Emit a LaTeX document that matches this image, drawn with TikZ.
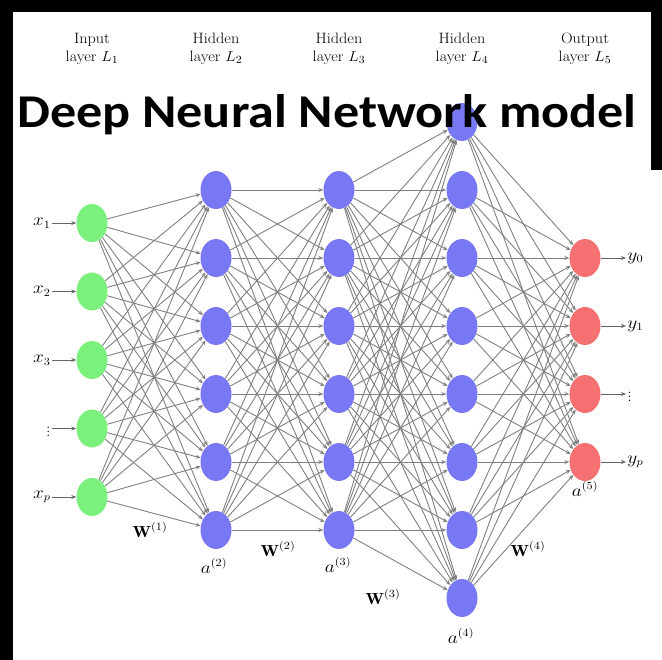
\documentclass[tikz,border=0pt]{standalone}
\usepackage{fontspec}
\newfontfamily\titlefont{Carlito}
\usetikzlibrary{arrows.meta,shapes.geometric}

\definecolor{ingreen}{RGB}{124,240,124}
\definecolor{hidblue}{RGB}{120,120,245}
\definecolor{outred}{RGB}{245,112,112}
\definecolor{linkgray}{RGB}{128,128,128}

\tikzset{
  neuron/.style={ellipse, minimum width=31pt, minimum height=38pt, inner sep=0pt},
  inneuron/.style={neuron, fill=ingreen},
  hidneuron/.style={neuron, fill=hidblue},
  outneuron/.style={neuron, fill=outred},
  link/.style={draw=linkgray, line width=0.9pt, -{Stealth[length=5pt,width=4pt]}},
  iolink/.style={draw=linkgray!80!black, line width=0.9pt, -{Stealth[length=5pt,width=4pt]}},
  lbl/.style={inner sep=1pt, xscale=1.12, font=\fontsize{16}{18}\selectfont},
  heading/.style={align=center, inner sep=0pt, xscale=1.08, font=\fontsize{15}{18}\selectfont},
}

\begin{document}
\begin{tikzpicture}[x=1pt, y=-1pt]
\useasboundingbox (0,0) rectangle (662,660);
\fill[white] (0,0) rectangle (662,660);
% dark frame
\fill[black] (0,0) rectangle (662,12);
\fill[black] (0,0) rectangle (13,660);
\fill[black] (651,0) rectangle (662,170);

% layer headings
\node[heading] (hd1) at (92,49) {Input\\layer $L_1$};
\node[heading] (hd2) at (216,49) {Hidden\\layer $L_2$};
\node[heading] (hd3) at (339,49) {Hidden\\layer $L_3$};
\node[heading] (hd4) at (462,49) {Hidden\\layer $L_4$};
\node[heading] (hd5) at (585,49) {Output\\layer $L_5$};

% neurons
\foreach \i in {1,...,5}
  \node[inneuron] (g\i) at (92,{360+(\i-3)*68.5}) {};
\foreach \i in {1,...,6} {
  \node[hidneuron] (p\i) at (216,{360+(\i-3.5)*68}) {};
  \node[hidneuron] (q\i) at (339,{360+(\i-3.5)*68}) {};
}
\foreach \i in {1,...,8}
  \node[hidneuron] (r\i) at (462,{360+(\i-4.5)*68}) {};
\foreach \i in {1,...,4}
  \node[outneuron] (o\i) at (585,{360+(\i-2.5)*68}) {};

% weights between layers
\foreach \i in {1,...,5}
  \foreach \j in {1,...,6}
    \draw[link] (g\i) -- (p\j);
\foreach \i in {1,...,6}
  \foreach \j in {1,...,6}
    \draw[link] (p\i) -- (q\j);
\foreach \i in {1,...,6}
  \foreach \j in {1,...,8}
    \draw[link] (q\i) -- (r\j);
\foreach \i in {1,...,8}
  \foreach \j in {1,...,4}
    \draw[link] (r\i) -- (o\j);

% inputs
\node[lbl, anchor=east] (x1) at (52,223) {$x_1$};
\node[lbl, anchor=east] (x2) at (52,291.5) {$x_2$};
\node[lbl, anchor=east] (x3) at (52,360) {$x_3$};
\node[lbl, anchor=east] (x4) at (52,428.5) {$\vdots$};
\node[lbl, anchor=east] (x5) at (52,497) {$x_p$};
\foreach \i in {1,...,5}
  \draw[iolink] (x\i) -- (g\i);

% outputs
\node[lbl, anchor=west] (y1) at (626,258) {$y_0$};
\node[lbl, anchor=west] (y2) at (626,326) {$y_1$};
\node[lbl, anchor=west] (y3) at (626,394) {$\vdots$};
\node[lbl, anchor=west] (y4) at (626,462) {$y_p$};
\foreach \i in {1,...,4}
  \draw[iolink] (o\i) -- (y\i);

% weight and activation labels
\node[lbl] (w1) at (150,530) {$\mathbf{W}^{(1)}$};
\node[lbl] (w2) at (278,549) {$\mathbf{W}^{(2)}$};
\node[lbl] (w3) at (383,597) {$\mathbf{W}^{(3)}$};
\node[lbl] (w4) at (528,549) {$\mathbf{W}^{(4)}$};
\node[lbl] (a2) at (214,566) {$a^{(2)}$};
\node[lbl] (a3) at (338,565) {$a^{(3)}$};
\node[lbl] (a4) at (461,636) {$a^{(4)}$};
\node[lbl] (a5) at (585,489) {$a^{(5)}$};

% title
\node[inner sep=0pt, anchor=base west, xscale=1.11, font=\titlefont\bfseries\fontsize{47}{47}\selectfont] (title) at (17,128) {Deep Neural Network model};
\end{tikzpicture}
\end{document}
